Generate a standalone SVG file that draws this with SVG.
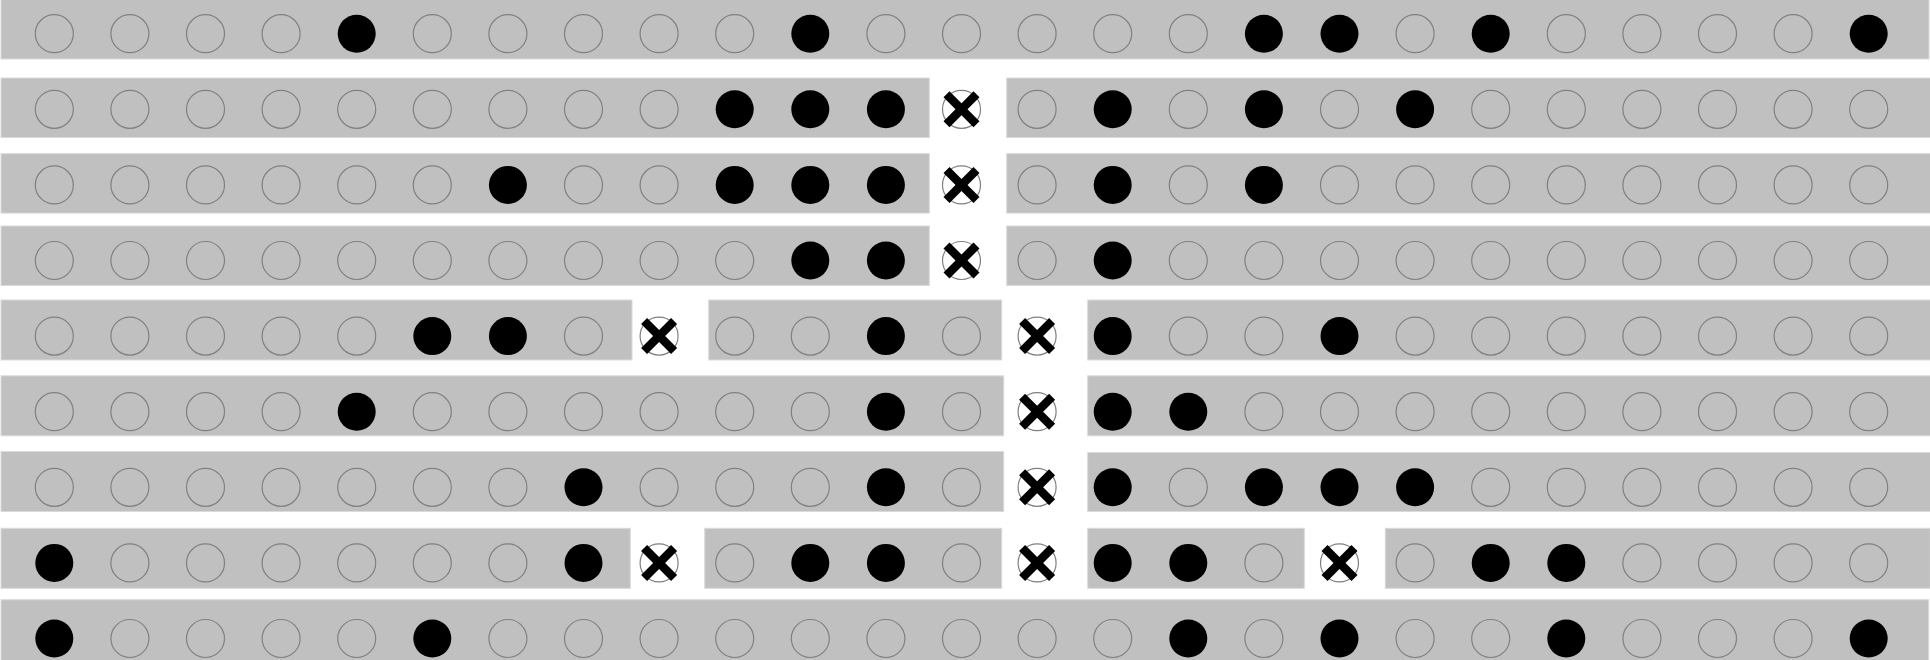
<svg xmlns="http://www.w3.org/2000/svg" xmlns:xlink="http://www.w3.org/1999/xlink" width="1930" height="660" viewBox="0 0 1930 660">
<style>
.band{fill:#c0c0c0;stroke:#dadada;stroke-width:1}
.e{fill:none;stroke:#808080;stroke-width:1.2}
.f{fill:#000000;stroke:none}
.xc{fill:#ffffff;stroke:#808080;stroke-width:1.2}
.xl{stroke:#000000;stroke-width:8.5;stroke-linecap:butt}
</style>
<defs>
<circle id="o" cx="0" cy="0" r="19" class="e"/>
<circle id="b" cx="0" cy="0" r="19" class="f"/>
<g id="x">
<circle cx="0" cy="0" r="19" class="xc"/>
<line x1="-15" y1="-15" x2="15" y2="15" class="xl"/>
<line x1="15" y1="-15" x2="-15" y2="15" class="xl"/>
</g>
</defs>
<rect width="1930" height="660" fill="#ffffff"/>
<g id="bands">
<rect class="band" x="1" y="-1" width="1928" height="60"/>
<rect class="band" x="1" y="78" width="928.3" height="59.5"/>
<rect class="band" x="1006.7" y="78" width="924" height="59.5"/>
<rect class="band" x="1" y="153.6" width="928.3" height="59.5"/>
<rect class="band" x="1006.7" y="153.6" width="924" height="59.5"/>
<rect class="band" x="1" y="226" width="928.3" height="59.5"/>
<rect class="band" x="1006.7" y="226" width="924" height="59.5"/>
<rect class="band" x="1" y="300" width="631" height="60"/>
<rect class="band" x="708.7" y="300" width="293" height="60"/>
<rect class="band" x="1087.7" y="300" width="843" height="60"/>
<rect class="band" x="1" y="375.8" width="1002.7" height="60"/>
<rect class="band" x="1087.7" y="375.8" width="843" height="60"/>
<rect class="band" x="1" y="451.5" width="1002.7" height="60"/>
<rect class="band" x="1087.7" y="452.5" width="843" height="59"/>
<rect class="band" x="1" y="528.3" width="629.3" height="60"/>
<rect class="band" x="704.7" y="528.3" width="297" height="60"/>
<rect class="band" x="1087.7" y="528.3" width="216.6" height="60"/>
<rect class="band" x="1385.3" y="528.3" width="545" height="60"/>
<rect class="band" x="1" y="599.7" width="1927.7" height="61"/>
</g>
<g id="row1">
<use href="#o" x="54.3" y="33.7"/><use href="#o" x="129.9" y="33.7"/><use href="#o" x="205.5" y="33.7"/><use href="#o" x="281.1" y="33.7"/><use href="#b" x="356.7" y="33.7"/><use href="#o" x="432.3" y="33.7"/><use href="#o" x="507.9" y="33.7"/><use href="#o" x="583.5" y="33.7"/><use href="#o" x="659.1" y="33.7"/><use href="#o" x="734.7" y="33.7"/><use href="#b" x="810.3" y="33.7"/><use href="#o" x="885.9" y="33.7"/><use href="#o" x="961.5" y="33.7"/><use href="#o" x="1037.1" y="33.7"/><use href="#o" x="1112.7" y="33.7"/><use href="#o" x="1188.3" y="33.7"/><use href="#b" x="1263.9" y="33.7"/><use href="#b" x="1339.5" y="33.7"/><use href="#o" x="1415.1" y="33.7"/><use href="#b" x="1490.7" y="33.7"/><use href="#o" x="1566.3" y="33.7"/><use href="#o" x="1641.9" y="33.7"/><use href="#o" x="1717.5" y="33.7"/><use href="#o" x="1793.1" y="33.7"/><use href="#b" x="1868.7" y="33.7"/>
</g>
<g id="row2">
<use href="#o" x="54.3" y="109.3"/><use href="#o" x="129.9" y="109.3"/><use href="#o" x="205.5" y="109.3"/><use href="#o" x="281.1" y="109.3"/><use href="#o" x="356.7" y="109.3"/><use href="#o" x="432.3" y="109.3"/><use href="#o" x="507.9" y="109.3"/><use href="#o" x="583.5" y="109.3"/><use href="#o" x="659.1" y="109.3"/><use href="#b" x="734.7" y="109.3"/><use href="#b" x="810.3" y="109.3"/><use href="#b" x="885.9" y="109.3"/><use href="#x" x="961.5" y="109.3"/><use href="#o" x="1037.1" y="109.3"/><use href="#b" x="1112.7" y="109.3"/><use href="#o" x="1188.3" y="109.3"/><use href="#b" x="1263.9" y="109.3"/><use href="#o" x="1339.5" y="109.3"/><use href="#b" x="1415.1" y="109.3"/><use href="#o" x="1490.7" y="109.3"/><use href="#o" x="1566.3" y="109.3"/><use href="#o" x="1641.9" y="109.3"/><use href="#o" x="1717.5" y="109.3"/><use href="#o" x="1793.1" y="109.3"/><use href="#o" x="1868.7" y="109.3"/>
</g>
<g id="row3">
<use href="#o" x="54.3" y="184.9"/><use href="#o" x="129.9" y="184.9"/><use href="#o" x="205.5" y="184.9"/><use href="#o" x="281.1" y="184.9"/><use href="#o" x="356.7" y="184.9"/><use href="#o" x="432.3" y="184.9"/><use href="#b" x="507.9" y="184.9"/><use href="#o" x="583.5" y="184.9"/><use href="#o" x="659.1" y="184.9"/><use href="#b" x="734.7" y="184.9"/><use href="#b" x="810.3" y="184.9"/><use href="#b" x="885.9" y="184.9"/><use href="#x" x="961.5" y="184.9"/><use href="#o" x="1037.1" y="184.9"/><use href="#b" x="1112.7" y="184.9"/><use href="#o" x="1188.3" y="184.9"/><use href="#b" x="1263.9" y="184.9"/><use href="#o" x="1339.5" y="184.9"/><use href="#o" x="1415.1" y="184.9"/><use href="#o" x="1490.7" y="184.9"/><use href="#o" x="1566.3" y="184.9"/><use href="#o" x="1641.9" y="184.9"/><use href="#o" x="1717.5" y="184.9"/><use href="#o" x="1793.1" y="184.9"/><use href="#o" x="1868.7" y="184.9"/>
</g>
<g id="row4">
<use href="#o" x="54.3" y="260.5"/><use href="#o" x="129.9" y="260.5"/><use href="#o" x="205.5" y="260.5"/><use href="#o" x="281.1" y="260.5"/><use href="#o" x="356.7" y="260.5"/><use href="#o" x="432.3" y="260.5"/><use href="#o" x="507.9" y="260.5"/><use href="#o" x="583.5" y="260.5"/><use href="#o" x="659.1" y="260.5"/><use href="#o" x="734.7" y="260.5"/><use href="#b" x="810.3" y="260.5"/><use href="#b" x="885.9" y="260.5"/><use href="#x" x="961.5" y="260.5"/><use href="#o" x="1037.1" y="260.5"/><use href="#b" x="1112.7" y="260.5"/><use href="#o" x="1188.3" y="260.5"/><use href="#o" x="1263.9" y="260.5"/><use href="#o" x="1339.5" y="260.5"/><use href="#o" x="1415.1" y="260.5"/><use href="#o" x="1490.7" y="260.5"/><use href="#o" x="1566.3" y="260.5"/><use href="#o" x="1641.9" y="260.5"/><use href="#o" x="1717.5" y="260.5"/><use href="#o" x="1793.1" y="260.5"/><use href="#o" x="1868.7" y="260.5"/>
</g>
<g id="row5">
<use href="#o" x="54.3" y="336.1"/><use href="#o" x="129.9" y="336.1"/><use href="#o" x="205.5" y="336.1"/><use href="#o" x="281.1" y="336.1"/><use href="#o" x="356.7" y="336.1"/><use href="#b" x="432.3" y="336.1"/><use href="#b" x="507.9" y="336.1"/><use href="#o" x="583.5" y="336.1"/><use href="#x" x="659.1" y="336.1"/><use href="#o" x="734.7" y="336.1"/><use href="#o" x="810.3" y="336.1"/><use href="#b" x="885.9" y="336.1"/><use href="#o" x="961.5" y="336.1"/><use href="#x" x="1037.1" y="336.1"/><use href="#b" x="1112.7" y="336.1"/><use href="#o" x="1188.3" y="336.1"/><use href="#o" x="1263.9" y="336.1"/><use href="#b" x="1339.5" y="336.1"/><use href="#o" x="1415.1" y="336.1"/><use href="#o" x="1490.7" y="336.1"/><use href="#o" x="1566.3" y="336.1"/><use href="#o" x="1641.9" y="336.1"/><use href="#o" x="1717.5" y="336.1"/><use href="#o" x="1793.1" y="336.1"/><use href="#o" x="1868.7" y="336.1"/>
</g>
<g id="row6">
<use href="#o" x="54.3" y="411.7"/><use href="#o" x="129.9" y="411.7"/><use href="#o" x="205.5" y="411.7"/><use href="#o" x="281.1" y="411.7"/><use href="#b" x="356.7" y="411.7"/><use href="#o" x="432.3" y="411.7"/><use href="#o" x="507.9" y="411.7"/><use href="#o" x="583.5" y="411.7"/><use href="#o" x="659.1" y="411.7"/><use href="#o" x="734.7" y="411.7"/><use href="#o" x="810.3" y="411.7"/><use href="#b" x="885.9" y="411.7"/><use href="#o" x="961.5" y="411.7"/><use href="#x" x="1037.1" y="411.7"/><use href="#b" x="1112.7" y="411.7"/><use href="#b" x="1188.3" y="411.7"/><use href="#o" x="1263.9" y="411.7"/><use href="#o" x="1339.5" y="411.7"/><use href="#o" x="1415.1" y="411.7"/><use href="#o" x="1490.7" y="411.7"/><use href="#o" x="1566.3" y="411.7"/><use href="#o" x="1641.9" y="411.7"/><use href="#o" x="1717.5" y="411.7"/><use href="#o" x="1793.1" y="411.7"/><use href="#o" x="1868.7" y="411.7"/>
</g>
<g id="row7">
<use href="#o" x="54.3" y="487.3"/><use href="#o" x="129.9" y="487.3"/><use href="#o" x="205.5" y="487.3"/><use href="#o" x="281.1" y="487.3"/><use href="#o" x="356.7" y="487.3"/><use href="#o" x="432.3" y="487.3"/><use href="#o" x="507.9" y="487.3"/><use href="#b" x="583.5" y="487.3"/><use href="#o" x="659.1" y="487.3"/><use href="#o" x="734.7" y="487.3"/><use href="#o" x="810.3" y="487.3"/><use href="#b" x="885.9" y="487.3"/><use href="#o" x="961.5" y="487.3"/><use href="#x" x="1037.1" y="487.3"/><use href="#b" x="1112.7" y="487.3"/><use href="#o" x="1188.3" y="487.3"/><use href="#b" x="1263.9" y="487.3"/><use href="#b" x="1339.5" y="487.3"/><use href="#b" x="1415.1" y="487.3"/><use href="#o" x="1490.7" y="487.3"/><use href="#o" x="1566.3" y="487.3"/><use href="#o" x="1641.9" y="487.3"/><use href="#o" x="1717.5" y="487.3"/><use href="#o" x="1793.1" y="487.3"/><use href="#o" x="1868.7" y="487.3"/>
</g>
<g id="row8">
<use href="#b" x="54.3" y="562.9"/><use href="#o" x="129.9" y="562.9"/><use href="#o" x="205.5" y="562.9"/><use href="#o" x="281.1" y="562.9"/><use href="#o" x="356.7" y="562.9"/><use href="#o" x="432.3" y="562.9"/><use href="#o" x="507.9" y="562.9"/><use href="#b" x="583.5" y="562.9"/><use href="#x" x="659.1" y="562.9"/><use href="#o" x="734.7" y="562.9"/><use href="#b" x="810.3" y="562.9"/><use href="#b" x="885.9" y="562.9"/><use href="#o" x="961.5" y="562.9"/><use href="#x" x="1037.1" y="562.9"/><use href="#b" x="1112.7" y="562.9"/><use href="#b" x="1188.3" y="562.9"/><use href="#o" x="1263.9" y="562.9"/><use href="#x" x="1339.5" y="562.9"/><use href="#o" x="1415.1" y="562.9"/><use href="#b" x="1490.7" y="562.9"/><use href="#b" x="1566.3" y="562.9"/><use href="#o" x="1641.9" y="562.9"/><use href="#o" x="1717.5" y="562.9"/><use href="#o" x="1793.1" y="562.9"/><use href="#o" x="1868.7" y="562.9"/>
</g>
<g id="row9">
<use href="#b" x="54.3" y="638.5"/><use href="#o" x="129.9" y="638.5"/><use href="#o" x="205.5" y="638.5"/><use href="#o" x="281.1" y="638.5"/><use href="#o" x="356.7" y="638.5"/><use href="#b" x="432.3" y="638.5"/><use href="#o" x="507.9" y="638.5"/><use href="#o" x="583.5" y="638.5"/><use href="#o" x="659.1" y="638.5"/><use href="#o" x="734.7" y="638.5"/><use href="#o" x="810.3" y="638.5"/><use href="#o" x="885.9" y="638.5"/><use href="#o" x="961.5" y="638.5"/><use href="#o" x="1037.1" y="638.5"/><use href="#o" x="1112.7" y="638.5"/><use href="#b" x="1188.3" y="638.5"/><use href="#o" x="1263.9" y="638.5"/><use href="#b" x="1339.5" y="638.5"/><use href="#o" x="1415.1" y="638.5"/><use href="#o" x="1490.7" y="638.5"/><use href="#b" x="1566.3" y="638.5"/><use href="#o" x="1641.9" y="638.5"/><use href="#o" x="1717.5" y="638.5"/><use href="#o" x="1793.1" y="638.5"/><use href="#b" x="1868.7" y="638.5"/>
</g>
</svg>
